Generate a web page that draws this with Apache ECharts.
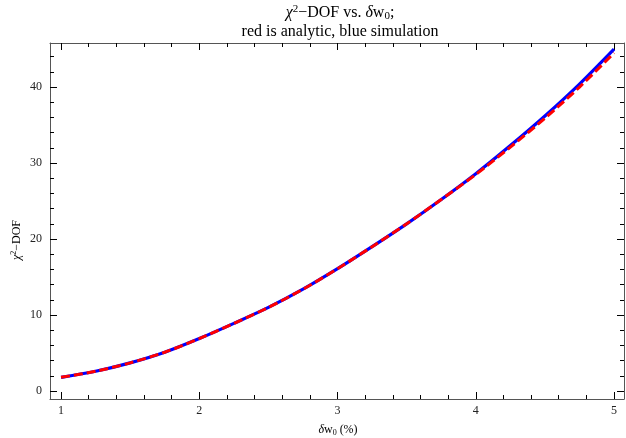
<!DOCTYPE html>
<html><head><meta charset="utf-8">
<script src="https://cdn.jsdelivr.net/npm/echarts@6/dist/echarts.min.js"></script>
<style>html,body{margin:0;padding:0;background:#fff}#c{width:626px;height:438px}</style>
</head><body><div id="c"></div>
<script>
var xValues = [1, 1.25, 1.5, 1.75, 2, 2.25, 2.5, 2.75, 3, 3.25, 3.5, 3.75, 4, 4.25, 4.5, 4.75, 5];
var blueSim = [1.8, 2.6, 3.7, 5.1, 6.9, 8.9, 11.0, 13.4, 16.1, 19.0, 22.0, 25.2, 28.6, 32.3, 36.2, 40.4, 45.0];
var redAnalytic = [1.8, 2.6, 3.7, 5.1, 6.9, 8.9, 11.0, 13.4, 16.1, 19.0, 22.0, 25.2, 28.5, 32.1, 35.9, 40.0, 44.5];
var xMajorTicks = [1, 2, 3, 4, 5];
var xMinorTicks = [1.2, 1.4, 1.6, 1.8, 2.2, 2.4, 2.6, 2.8, 3.2, 3.4, 3.6, 3.8, 4.2, 4.4, 4.6, 4.8];
var yMajorTicks = [0, 10, 20, 30, 40];
var yMinorTicks = [2, 4, 6, 8, 12, 14, 16, 18, 22, 24, 26, 28, 32, 34, 36, 38, 42, 44];

var XMIN = 0.92, XMAX = 5.072, YMIN = -1.05, YMAX = 45.8;
var serif = '"Liberation Serif","DejaVu Serif",serif';
var lineCol = '#555';

function mkAxis(kind, pos, ticks, len, showLabel, showLine) {
  return {
    type: 'value', position: pos,
    min: kind === 'x' ? XMIN : YMIN, max: kind === 'x' ? XMAX : YMAX,
    splitLine: {show: false},
    axisLine: {show: showLine, onZero: false, lineStyle: {color: lineCol, width: 1}},
    axisTick: {show: true, inside: true, length: len, customValues: ticks, lineStyle: {color: '#000', width: 1}},
    axisLabel: {show: showLabel, customValues: ticks, fontFamily: serif, fontSize: 12, color: '#222', margin: kind === 'x' ? 6 : 8}
  };
}

var chart = echarts.init(document.getElementById('c'), null, {renderer: 'canvas'});
var richBase = {
  n: {fontFamily: serif, fontSize: 16, color: '#111', lineHeight: 18},
  i: {fontFamily: serif, fontSize: 16, fontStyle: 'italic', color: '#111', lineHeight: 18},
  sup: {fontFamily: serif, fontSize: 11, color: '#111', lineHeight: 8, verticalAlign: 'top'},
  sub: {fontFamily: serif, fontSize: 11, color: '#111', lineHeight: 8, verticalAlign: 'bottom'}
};
var richSmall = {
  n: {fontFamily: serif, fontSize: 12, color: '#222', lineHeight: 14},
  i: {fontFamily: serif, fontSize: 12, fontStyle: 'italic', color: '#222', lineHeight: 14},
  sup: {fontFamily: serif, fontSize: 8, color: '#222', lineHeight: 6, verticalAlign: 'top'},
  sub: {fontFamily: serif, fontSize: 8, color: '#222', lineHeight: 6, verticalAlign: 'bottom'}
};

chart.setOption({
  animation: false,
  backgroundColor: '#fff',
  grid: {left: 50, right: 2, top: 43, bottom: 39},
  xAxis: [
    mkAxis('x', 'bottom', xMajorTicks, 7, true, true),
    mkAxis('x', 'bottom', xMinorTicks, 4, false, false),
    mkAxis('x', 'top', xMajorTicks, 7, false, true),
    mkAxis('x', 'top', xMinorTicks, 4, false, false)
  ],
  yAxis: [
    mkAxis('y', 'left', yMajorTicks, 7, true, true),
    mkAxis('y', 'left', yMinorTicks, 4, false, false),
    mkAxis('y', 'right', yMajorTicks, 7, false, true),
    mkAxis('y', 'right', yMinorTicks, 4, false, false)
  ],
  graphic: [
    {type: 'text', x: 340, y: 13, style: {
      text: '{i|χ}{sup|2}{n|−DOF vs. }{i|δ}{n|w}{sub|0}{n|;}',
      rich: richBase, align: 'center', verticalAlign: 'middle'}},
    {type: 'text', x: 340, y: 32, style: {
      text: '{n|red is analytic, blue simulation}',
      rich: richBase, align: 'center', verticalAlign: 'middle'}},
    {type: 'text', x: 338, y: 430, style: {
      text: '{i|δ}{n|w}{sub|0}{n| (%)}',
      rich: richSmall, align: 'center', verticalAlign: 'middle'}},
    {type: 'text', x: 17, y: 240, rotation: Math.PI / 2, style: {
      text: '{i|χ}{sup|2}{n|−DOF}',
      rich: richSmall, align: 'center', verticalAlign: 'middle'}}
  ],
  series: [
    {type: 'line', name: 'simulation', data: xValues.map(function (x, k) { return [x, blueSim[k]]; }),
     smooth: 0.3, showSymbol: false, lineStyle: {color: '#0000ff', width: 3.2}, z: 2},
    {type: 'line', name: 'analytic', data: xValues.map(function (x, k) { return [x, redAnalytic[k]]; }),
     smooth: 0.3, showSymbol: false, lineStyle: {color: '#ff0000', width: 3, type: [9, 4]}, z: 3}
  ]
});
</script></body></html>
